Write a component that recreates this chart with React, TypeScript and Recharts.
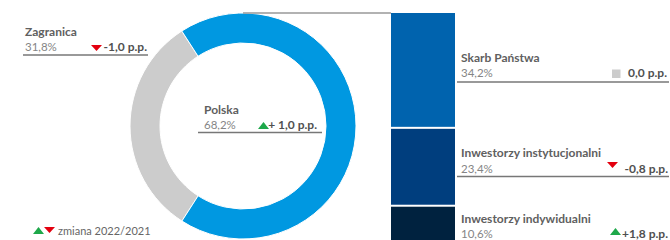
import { PieChart, Pie, Cell, BarChart, Bar, XAxis, YAxis } from "recharts";

const regions = ["Zagranica", "Polska"];
const regionShares = [31.8, 68.2];
const regionChanges = ["-1,0 p.p.", "+ 1,0 p.p."];
const regionTrend = ["down", "up"];

const holders = ["Skarb Państwa", "Inwestorzy instytucjonalni", "Inwestorzy indywidualni"];
const holderShares = [34.2, 23.4, 10.6];
const holderChanges = ["0,0 p.p.", "-0,8 p.p.", "+1,8 p.p."];
const holderTrend = ["flat", "down", "up"];

const legendText = "zmiana 2022/2021";

const donutColors = ["#cccccc", "#0098e1"];
const barColors = ["#0063ae", "#003e7e", "#00223f"];
const GREEN = "#1ea84a";
const RED = "#e3000f";
const FONT = "Lato, 'Noto Sans', sans-serif";

const pieData = regions.map((name, i) => ({ name, value: regionShares[i] }));
const barData = [
  {
    name: "Polska",
    skarb: holderShares[0],
    inst: holderShares[1],
    indyw: holderShares[2],
  },
];

const fmt = (v: number) => v.toFixed(1).replace(".", ",") + "%";

// layout for the callouts (not data)
const regionBoxes = [
  { x: 25, x0: 23, x1: 148, nameY: 36, valY: 51, lineY: 55, chgX: 147, markX: 91, markY: 45 },
  { x: 204, x0: 198, x1: 322, nameY: 114, valY: 129, lineY: 132.5, chgX: 317, markX: 258, markY: 122 },
];
const holderBoxes = [
  { x: 461, x0: 457, x1: 669, nameY: 62, valY: 77, lineY: 82, chgX: 667, markX: 612, markY: 69.5 },
  { x: 461, x0: 457, x1: 669, nameY: 157, valY: 172.5, lineY: 176.5, chgX: 668, markX: 607, markY: 162 },
  { x: 461, x0: 457, x1: 669, nameY: 222.5, valY: 237.5, lineY: 241, chgX: 668, markX: 610, markY: 228 },
];

function Marker({ kind, x, y }: { kind: string; x: number; y: number }) {
  if (kind === "up")
    return <polygon points={`${x},${y + 7} ${x + 11},${y + 7} ${x + 5.5},${y}`} fill={GREEN} />;
  if (kind === "down")
    return <polygon points={`${x},${y} ${x + 11},${y} ${x + 5.5},${y + 6}`} fill={RED} />;
  return <rect x={x} y={y} width={8.5} height={8.5} fill="#cccccc" />;
}

function Callout({ box, name, value, change, trend }: any) {
  return (
    <g>
      <text x={box.x} y={box.nameY} fontSize={12} fontWeight={700} fill="#606060">
        {name}
      </text>
      <text x={box.x} y={box.valY} fontSize={11.5} fill="#858585">
        {value}
      </text>
      <Marker kind={trend} x={box.markX} y={box.markY} />
      <text x={box.chgX} y={box.valY} fontSize={12} fontWeight={700} fill="#505050" textAnchor="end">
        {change}
      </text>
      <line x1={box.x0} x2={box.x1} y1={box.lineY} y2={box.lineY} stroke="#777" strokeWidth={1.3} />
    </g>
  );
}

const gapShape = (gap: number) => (p: any) =>
  <rect x={p.x} y={p.y + gap} width={p.width} height={Math.max(0, p.height - gap)} fill={p.fill} />;

export default function App() {
  return (
    <div style={{ position: "absolute", left: 0, top: 0, width: 670, height: 240, overflow: "hidden", background: "#fff", fontFamily: FONT }}>
      <div style={{ position: "absolute", left: 0, top: 0 }}>
        <PieChart width={670} height={240} margin={{ top: 0, right: 0, bottom: 0, left: 0 }}>
          <Pie
            data={pieData}
            dataKey="value"
            cx={243}
            cy={126}
            innerRadius={83}
            outerRadius={113}
            startAngle={122.8}
            endAngle={482.8}
            stroke="#fff"
            strokeWidth={1}
            isAnimationActive={false}
          >
            {pieData.map((d, i) => (
              <Cell key={d.name} fill={donutColors[i]} />
            ))}
          </Pie>
        </PieChart>
      </div>
      <div style={{ position: "absolute", left: 391, top: 13 }}>
        <BarChart width={64} height={227} data={barData} margin={{ top: 0, right: 0, bottom: 0, left: 0 }} barCategoryGap={0}>
          <XAxis dataKey="name" hide />
          <YAxis hide domain={[0, holderShares.reduce((a, b) => a + b, 0)]} />
          <Bar dataKey="indyw" stackId="a" fill={barColors[2]} shape={gapShape(2)} isAnimationActive={false} />
          <Bar dataKey="inst" stackId="a" fill={barColors[1]} shape={gapShape(2)} isAnimationActive={false} />
          <Bar dataKey="skarb" stackId="a" fill={barColors[0]} shape={gapShape(0)} isAnimationActive={false} />
        </BarChart>
      </div>
      <svg width={670} height={240} style={{ position: "absolute", left: 0, top: 0, fontFamily: FONT }}>
        <line x1={243} x2={391} y1={13} y2={13} stroke="#999" strokeWidth={1.3} />
        {regions.map((r, i) => (
          <Callout key={r} box={regionBoxes[i]} name={r} value={fmt(regionShares[i])} change={regionChanges[i]} trend={regionTrend[i]} />
        ))}
        {holders.map((h, i) => (
          <Callout key={h} box={holderBoxes[i]} name={h} value={fmt(holderShares[i])} change={holderChanges[i]} trend={holderTrend[i]} />
        ))}
        <Marker kind="up" x={33} y={227} />
        <Marker kind="down" x={44} y={227} />
        <text x={58} y={235} fontSize={11} fill="#666">
          {legendText}
        </text>
      </svg>
    </div>
  );
}
